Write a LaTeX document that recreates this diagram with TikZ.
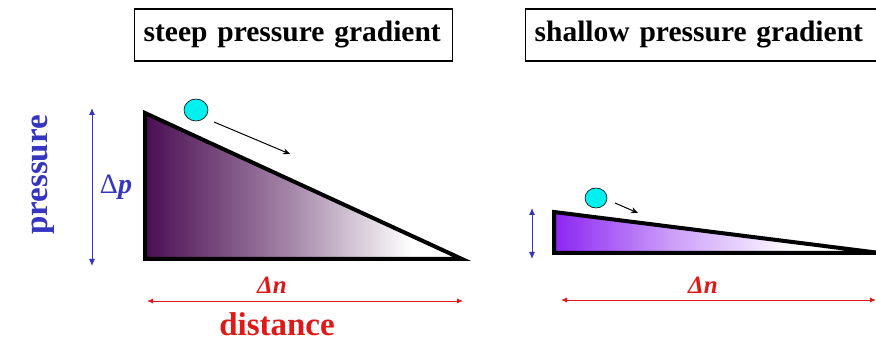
\documentclass[tikz,border=0pt]{standalone}
\usepackage{fontspec}
\setmainfont{Liberation Serif}
\usetikzlibrary{arrows.meta, positioning, shapes.geometric}
\definecolor{cblue}{HTML}{3535C0}
\definecolor{cred}{HTML}{E01818}
\definecolor{cdeep}{HTML}{4A0E52}
\definecolor{cviolet}{HTML}{8C26F2}
\definecolor{cball}{HTML}{00F0F0}
\pgfdeclarehorizontalshading{steepfade}{100bp}{color(0bp)=(cdeep); color(25bp)=(cdeep); color(48bp)=(cdeep!50!white); color(67bp)=(white); color(100bp)=(white)}
\pgfdeclarehorizontalshading{flatfade}{100bp}{color(0bp)=(cviolet); color(25bp)=(cviolet); color(43bp)=(cviolet!45!white); color(62bp)=(white); color(100bp)=(white)}
\tikzset{
  every picture/.style={x=1pt, y=-1pt, line width=1pt},
  titlebox/.style={draw, line width=1.3pt, font=\bfseries\fontsize{29.5}{31}\selectfont, inner xsep=9pt, minimum height=52pt, text width=#1, align=left},
  slope/.style={draw=black, line width=4pt, line join=miter, shading=#1},
  ball/.style={ellipse, draw=black, line width=0.6pt, fill=cball, minimum width=24pt, minimum height=22pt, inner sep=0pt},
  roll/.style={-{Stealth[length=7pt, width=6pt]}, draw=black, line width=1pt},
  hdim/.style={{Latex[length=6pt, width=5pt]}-{Latex[length=6pt, width=5pt]}, draw=cred, line width=0.9pt},
  vdim/.style={{Latex[length=7pt, width=6pt]}-{Latex[length=7pt, width=6pt]}, draw=cblue, line width=0.9pt},
  redlabel/.style={text=cred, font=\bfseries\itshape\fontsize{25}{27}\selectfont},
  axislabel/.style={font=\bfseries\fontsize{33}{35}\selectfont},
}

\begin{document}
\begin{tikzpicture}
  \clip (0,0) rectangle (876,344);
  \node[titlebox=300pt, anchor=west] (steep) at (134,35) {steep pressure gradient};
  \node[titlebox=370pt, anchor=west] (shallow) at (525,35) {shallow pressure gradient};

  \coordinate (steeptop) at (145,113);
  \coordinate (steepcorner) at (145,259);
  \coordinate (steeptip) at (462,259);
  \path[slope=steepfade] (steeptop) -- (steepcorner) -- (steeptip) -- cycle;

  \coordinate (flattop) at (554,212);
  \coordinate (flatcorner) at (554,253);
  \coordinate (flattip) at (880,253);
  \path[slope=flatfade] (flattop) -- (flatcorner) -- (flattip) -- cycle;

  \node[ball] (steepball) at (196,110) {};
  \coordinate (steeproll) at (290,154);
  \draw[roll] (214,122) -- (steeproll);
  \node[ball, minimum width=22pt, minimum height=20pt] (flatball) at (596,198) {};
  \coordinate (flatroll) at (638,213);
  \draw[roll] (615,203) -- (flatroll);

  \coordinate (steephigh) at (92,108);
  \coordinate (steeplow) at (92,266);
  \draw[vdim] (steephigh) -- (steeplow);
  \coordinate (flathigh) at (532,208);
  \coordinate (flatlow) at (532,259);
  \draw[vdim] (flathigh) -- (flatlow);

  \coordinate (steepleft) at (147,301);
  \coordinate (steepright) at (463,301);
  \draw[hdim] (steepleft) -- (steepright);
  \coordinate (flatleft) at (561,300);
  \coordinate (flatright) at (876,300);
  \draw[hdim] (flatleft) -- (flatright);

  \node[text=cblue, font=\bfseries\fontsize{28}{30}\selectfont] (dp) at (116,187) {{\mdseries Δ}\textit{p}};
  \node[redlabel] (dnsteep) at (272,285) {Δn};
  \node[redlabel] (dnflat) at (703,285) {Δn};
  \node[axislabel, text=cblue, rotate=90] (pressure) at (43,175) {pressure};
  \node[axislabel, text=cred] (distance) at (277,324) {distance};
\end{tikzpicture}
\end{document}
